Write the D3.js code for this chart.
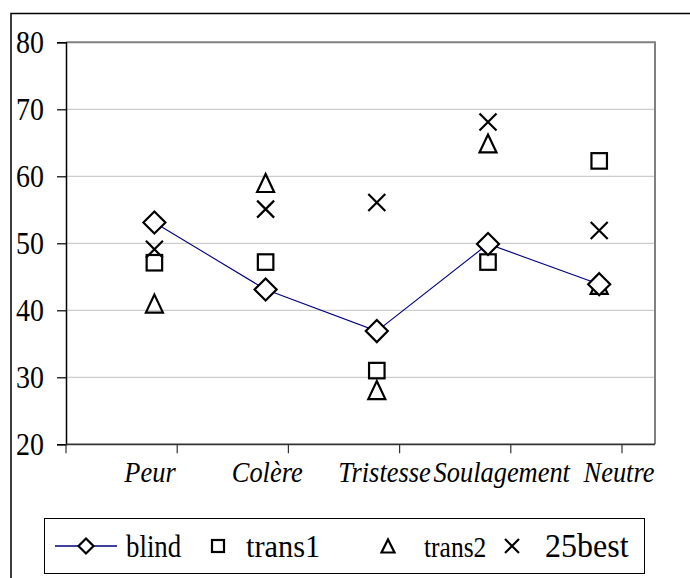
<!DOCTYPE html>
<html><head><meta charset="utf-8">
<script src="https://cdn.jsdelivr.net/npm/d3@7"></script>
<style>html,body{margin:0;padding:0;background:#fff;}svg{display:block;} svg text{font-family:"Liberation Serif","DejaVu Serif",serif;}</style>
</head><body>
<svg id="chart" width="690" height="578"></svg>
<script>
const categories = ["Peur","Colère","Tristesse","Soulagement","Neutre"];
const blind  = [53.1, 43.1, 36.9, 49.9, 43.9];
const trans1 = [47.1, 47.2, 31.0, 47.2, 62.3];
const trans2 = [41.0, 59.0, 28.1, 64.9, 43.8];
const best25 = [49.1, 55.1, 56.1, 68.1, 51.9];
const yTicks = [20,30,40,50,60,70,80];
const seriesNames = ["blind","trans1","trans2","25best"];

const svg = d3.select("#chart");

// outer border
svg.append("rect").attr("x",11).attr("y",13.5).attr("width",700).attr("height",600)
  .attr("fill","none").attr("stroke","#000").attr("stroke-width",1.5);

const plotL = 66, plotR = 655, plotT = 42.3, plotB = 444.3;
const x = d3.scaleBand().domain(categories).range([plotL, 622]).padding(0);
const px = c => x(c) + x.bandwidth()*0.795;
const xl = d3.scalePoint().domain(categories).range([plotL+84, plotR-36]);
const y = d3.scaleLinear().domain([20,80]).range([plotB, plotT]);

// gridlines
svg.append("g").selectAll("line").data(yTicks.filter(v=>v>20 && v<80)).join("line")
  .attr("x1",plotL).attr("x2",plotR).attr("y1",d=>y(d)).attr("y2",d=>y(d))
  .attr("stroke","#c0c0c0").attr("stroke-width",1);
// plot border top/right
svg.append("path").attr("d",`M${plotL},${plotT}H${plotR}V${plotB}`)
  .attr("fill","none").attr("stroke","#808080").attr("stroke-width",2);

// y axis
const yAxis = d3.axisLeft(y).tickValues(yTicks).tickSize(9).tickPadding(0).tickFormat(d3.format("d"));
const gy = svg.append("g").attr("transform",`translate(${plotL},0)`).call(yAxis);
gy.attr("font-family",null).attr("font-size",null);
gy.select(".domain").attr("stroke","#000").attr("stroke-width",1.5);
gy.selectAll(".tick line").attr("stroke","#000").attr("stroke-width",1.2);
gy.selectAll(".tick text").style("font-size","31px").attr("fill","#000")
  .attr("text-anchor","end").attr("x",0).attr("dy",0)
  .attr("transform","translate(-22,10.5) scale(0.9,1)");

// x axis
const xAxis = d3.axisBottom(x).tickSize(0).tickFormat("");
const gx = svg.append("g").attr("transform",`translate(0,${plotB})`).call(xAxis);
gx.attr("font-family",null).attr("font-size",null);
gx.select(".domain").remove();
gx.selectAll(".tick").remove();
gx.append("line").attr("x1",plotL).attr("x2",plotR).attr("y1",0).attr("y2",0)
  .attr("stroke","#333").attr("stroke-width",1.8);
const bounds = categories.map(c=>x(c)).concat([x(categories[categories.length-1])+x.bandwidth()]);
gx.selectAll("line.tk").data(bounds).join("line").attr("class","tk")
  .attr("x1",d=>d).attr("x2",d=>d).attr("y1",0).attr("y2",9)
  .attr("stroke","#333").attr("stroke-width",1.2);
gx.selectAll("text.lb").data(categories).join("text").attr("class","lb")
  .attr("transform",d=>`translate(${xl(d)},38) scale(0.88,1)`)
  .attr("text-anchor","middle").style("font-style","italic")
  .style("font-size","30px").attr("fill","#000").text(d=>d);

// markers
function diamond(g, cx, cy, r){ g.append("path").attr("d",`M${cx},${cy-r}L${cx+r},${cy}L${cx},${cy+r}L${cx-r},${cy}Z`)
  .attr("fill","#fff").attr("stroke","#000").attr("stroke-width",2.2); }
function square(g, cx, cy, s){ g.append("rect").attr("x",cx-s/2).attr("y",cy-s/2).attr("width",s).attr("height",s)
  .attr("fill","none").attr("stroke","#000").attr("stroke-width",2.2); }
function triangle(g, cx, cy, w, h){ g.append("path").attr("d",`M${cx},${cy-h/2}L${cx+w/2},${cy+h/2}L${cx-w/2},${cy+h/2}Z`)
  .attr("fill","none").attr("stroke","#000").attr("stroke-width",2.2).attr("stroke-linejoin","miter"); }
function cross(g, cx, cy, r){ g.append("path").attr("d",`M${cx-r},${cy-r}L${cx+r},${cy+r}M${cx-r},${cy+r}L${cx+r},${cy-r}`)
  .attr("fill","none").attr("stroke","#000").attr("stroke-width",2.2); }

const gm = svg.append("g");
categories.forEach((c,i)=>square(gm, px(c), y(trans1[i]), 15.5));
categories.forEach((c,i)=>triangle(gm, px(c), y(trans2[i]), 17, 18));
categories.forEach((c,i)=>cross(gm, px(c), y(best25[i]), 8.5));
const line = d3.line().x((d,i)=>px(categories[i])).y(d=>y(d));
gm.append("path").datum(blind).attr("d",line).attr("fill","none").attr("stroke","#000080").attr("stroke-width",1.1);
categories.forEach((c,i)=>diamond(gm, px(c), y(blind[i]), 11));

// legend
const lg = svg.append("g");
lg.append("rect").attr("x",44.5).attr("y",518.5).attr("width",600).attr("height",55)
  .attr("fill","#fff").attr("stroke","#000").attr("stroke-width",1);
const ly = 546;
lg.append("line").attr("x1",55).attr("x2",117).attr("y1",ly).attr("y2",ly).attr("stroke","#000080").attr("stroke-width",1.3);
diamond(lg, 86, ly, 7.5);
square(lg, 218, ly, 12);
triangle(lg, 388, ly, 13, 13);
cross(lg, 512, ly, 7);
const legendText = [
  {t:seriesNames[0], x:126, fs:32, sx:0.84},
  {t:seriesNames[1], x:246, fs:32, sx:0.95},
  {t:seriesNames[2], x:424, fs:29, sx:0.88},
  {t:seriesNames[3], x:545, fs:33, sx:0.97}
];
lg.selectAll("text").data(legendText).join("text")
  .attr("transform",d=>`translate(${d.x},${ly+11}) scale(${d.sx},1)`)
  .style("font-size",d=>d.fs+"px").attr("fill","#000").text(d=>d.t);
</script>
</body></html>
